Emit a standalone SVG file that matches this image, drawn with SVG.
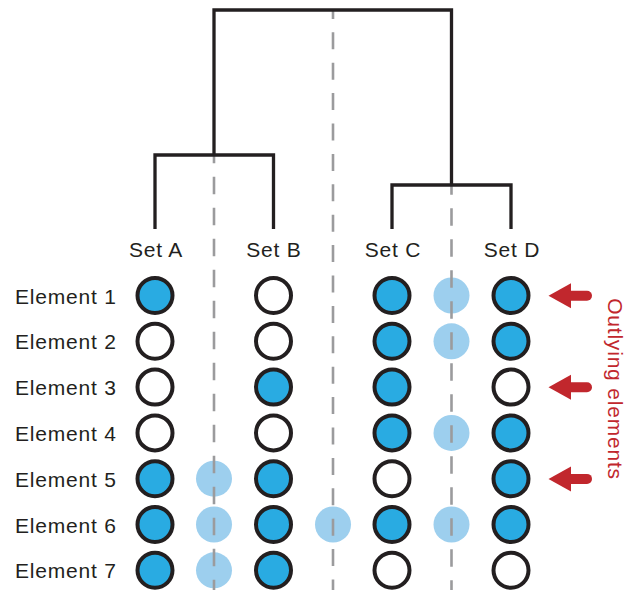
<svg xmlns="http://www.w3.org/2000/svg" width="632" height="592" viewBox="0 0 632 592">
<style>
.lbl{font-family:"Liberation Sans",Arial,Helvetica,sans-serif;font-size:21px;letter-spacing:0.8px;fill:#231F20}
.set{text-anchor:middle}
.tree{fill:none;stroke:#231F20;stroke-width:3.3;stroke-linejoin:miter;stroke-linecap:butt}
.dash{fill:none;stroke:#9B9B9D;stroke-width:2.6}
.f{fill:#29ABE2;stroke:#231F20;stroke-width:4}
.e{fill:#FFFFFF;stroke:#231F20;stroke-width:4}
.l{fill:#9DCFEE}
.arr{fill:#C1272D}
.shaft{stroke:#C1272D;stroke-width:10;stroke-linecap:round}
.out{font-family:"Liberation Sans",Arial,Helvetica,sans-serif;font-size:21px;letter-spacing:0.8px;fill:#C1272D;text-anchor:middle}
</style>
<rect width="632" height="592" fill="#FFFFFF"/>

<g id="light-circles">
  <circle class="l" cx="451.5" cy="295.5" r="18"/>
  <circle class="l" cx="451.5" cy="341.3" r="18"/>
  <circle class="l" cx="451.5" cy="432.9" r="18"/>
  <circle class="l" cx="214" cy="478.7" r="18"/>
  <circle class="l" cx="214" cy="524.5" r="18"/>
  <circle class="l" cx="333" cy="524.5" r="18"/>
  <circle class="l" cx="451.5" cy="524.5" r="18"/>
  <circle class="l" cx="214" cy="570.3" r="18"/>
</g>

<g id="connectors">
  <line class="dash" x1="333" y1="11" x2="333" y2="590" stroke-dasharray="17 13.4" stroke-dashoffset="9.1"/>
  <line class="dash" x1="214" y1="155" x2="214" y2="590" stroke-dasharray="17.5 13.5" stroke-dashoffset="9.3"/>
  <line class="dash" x1="451.5" y1="185" x2="451.5" y2="590" stroke-dasharray="17.5 13.5" stroke-dashoffset="7.7"/>
  <polyline class="tree" points="214,155 214,10 451.5,10 451.5,185"/>
  <polyline class="tree" points="155,229 155,155 273.5,155 273.5,229"/>
  <polyline class="tree" points="392,229 392,185 511,185 511,229"/>
</g>

<g id="set-labels">
  <text class="lbl set" x="156" y="257">Set A</text>
  <text class="lbl set" x="274" y="257">Set B</text>
  <text class="lbl set" x="393" y="257">Set C</text>
  <text class="lbl set" x="512" y="257">Set D</text>
</g>

<g id="element-labels">
  <text class="lbl" x="15" y="303.5">Element 1</text>
  <text class="lbl" x="15" y="349.3">Element 2</text>
  <text class="lbl" x="15" y="395.1">Element 3</text>
  <text class="lbl" x="15" y="440.9">Element 4</text>
  <text class="lbl" x="15" y="486.7">Element 5</text>
  <text class="lbl" x="15" y="532.5">Element 6</text>
  <text class="lbl" x="15" y="578.3">Element 7</text>
</g>

<g id="set-a">
  <circle class="f" cx="155" cy="295.5" r="17.5"/>
  <circle class="e" cx="155" cy="341.3" r="17.5"/>
  <circle class="e" cx="155" cy="387.1" r="17.5"/>
  <circle class="e" cx="155" cy="432.9" r="17.5"/>
  <circle class="f" cx="155" cy="478.7" r="17.5"/>
  <circle class="f" cx="155" cy="524.5" r="17.5"/>
  <circle class="f" cx="155" cy="570.3" r="17.5"/>
</g>
<g id="set-b">
  <circle class="e" cx="273.5" cy="295.5" r="17.5"/>
  <circle class="e" cx="273.5" cy="341.3" r="17.5"/>
  <circle class="f" cx="273.5" cy="387.1" r="17.5"/>
  <circle class="e" cx="273.5" cy="432.9" r="17.5"/>
  <circle class="f" cx="273.5" cy="478.7" r="17.5"/>
  <circle class="f" cx="273.5" cy="524.5" r="17.5"/>
  <circle class="f" cx="273.5" cy="570.3" r="17.5"/>
</g>
<g id="set-c">
  <circle class="f" cx="392" cy="295.5" r="17.5"/>
  <circle class="f" cx="392" cy="341.3" r="17.5"/>
  <circle class="f" cx="392" cy="387.1" r="17.5"/>
  <circle class="f" cx="392" cy="432.9" r="17.5"/>
  <circle class="e" cx="392" cy="478.7" r="17.5"/>
  <circle class="f" cx="392" cy="524.5" r="17.5"/>
  <circle class="e" cx="392" cy="570.3" r="17.5"/>
</g>
<g id="set-d">
  <circle class="f" cx="511" cy="295.5" r="17.5"/>
  <circle class="f" cx="511" cy="341.3" r="17.5"/>
  <circle class="e" cx="511" cy="387.1" r="17.5"/>
  <circle class="f" cx="511" cy="432.9" r="17.5"/>
  <circle class="f" cx="511" cy="478.7" r="17.5"/>
  <circle class="f" cx="511" cy="524.5" r="17.5"/>
  <circle class="e" cx="511" cy="570.3" r="17.5"/>
</g>

<g id="outlier-arrows">
  <line class="shaft" x1="569" y1="295.7" x2="587" y2="295.7"/>
  <polygon class="arr" points="548.5,295.7 571,283.2 571,308.2"/>
  <line class="shaft" x1="569" y1="387.3" x2="587" y2="387.3"/>
  <polygon class="arr" points="548.5,387.3 571,374.8 571,399.8"/>
  <line class="shaft" x1="569" y1="478.9" x2="587" y2="478.9"/>
  <polygon class="arr" points="548.5,478.9 571,466.4 571,491.4"/>
</g>

<g id="outlying-label">
  <text class="out" transform="translate(608,389) rotate(90)">Outlying elements</text>
</g>
</svg>
